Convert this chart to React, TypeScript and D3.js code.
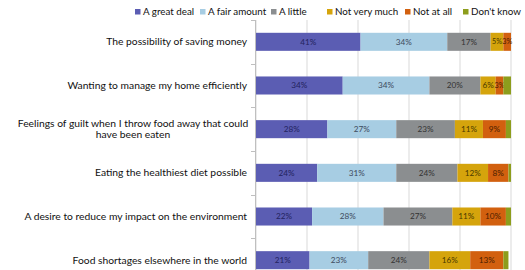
import React from 'react';
import * as d3 from 'd3';

const categories = [
  'The possibility of saving money',
  'Wanting to manage my home efficiently',
  'Feelings of guilt when I throw food away that could|have been eaten',
  'Eating the healthiest diet possible',
  'A desire to reduce my impact on the environment',
  'Food shortages elsewhere in the world',
];

const seriesNames = ['A great deal', 'A fair amount', 'A little', 'Not very much', 'Not at all', "Don't know"];

const greatDeal = [41, 34, 28, 24, 22, 21];
const fairAmount = [34, 34, 27, 31, 28, 23];
const aLittle = [17, 20, 23, 24, 27, 24];
const notVeryMuch = [5, 6, 11, 12, 11, 16];
const notAtAll = [3, 3, 9, 8, 10, 13];
const dontKnow = [0, 3, 2, 1, 2, 2];

const colors = ['#5b5db3', '#a7cde3', '#8b8e90', '#d5a40c', '#d2600f', '#8d9d1c'];
const labelColors = ['#23235e', '#3d4a5c', '#333333', '#4a3a00', '#4a1e00', '#333333'];

const xTicks = [0, 20, 40, 60, 80, 100];

const App = () => {
  const width = 525;
  const height = 270;

  const series = [greatDeal, fairAmount, aLittle, notVeryMuch, notAtAll, dontKnow];

  const x = d3.scaleLinear().domain([0, 100]).range([256, 511]);
  const y = d3
    .scaleBand<string>()
    .domain(categories)
    .range([20, 282])
    .paddingInner(0.587)
    .paddingOuter(0.293);

  const table = categories.map((c, i) => {
    const row: Record<string, number | string> = { cat: c };
    seriesNames.forEach((s, j) => (row[s] = series[j][i]));
    return row;
  });
  const stacked = d3.stack<Record<string, number | string>>().keys(seriesNames)(table as any);

  const font = 'Lato, "Open Sans", sans-serif';
  const step = y.step();

  // legend positions (x of the swatch)
  const legendX = [135, 200, 271, 327, 405, 463];

  return (
    <svg
      width={width}
      height={height}
      style={{ position: 'absolute', left: 0, top: 0, background: '#fff' }}
      fontFamily={font}
    >
      <rect x={0} y={0} width={width} height={height} fill="#ffffff" />

      {/* gridlines */}
      {xTicks.map((t) => (
        <line key={t} x1={x(t)} x2={x(t)} y1={20} y2={height} stroke="#d9d9d9" strokeWidth={1} />
      ))}

      {/* category axis */}
      <line x1={255.5} x2={255.5} y1={20} y2={height} stroke="#bfbfbf" />
      {d3.range(categories.length + 1).map((k) => (
        <line
          key={k}
          x1={251}
          x2={255.5}
          y1={Math.round(20 + k * step) + 0.5}
          y2={Math.round(20 + k * step) + 0.5}
          stroke="#bfbfbf"
        />
      ))}

      {/* bars */}
      {stacked.map((layer, j) =>
        layer.map((d, i) => {
          const x0 = x(d[0]);
          const x1 = x(d[1]);
          const yy = y(categories[i]) as number;
          const v = series[j][i];
          const w = x1 - x0;
          return (
            <g key={`${j}-${i}`}>
              <rect x={x0} y={yy} width={Math.max(0, w)} height={y.bandwidth()} fill={colors[j]} />
              {j < 5 && v > 0 && (
                <text
                  x={(x0 + x1) / 2}
                  y={yy + y.bandwidth() / 2}
                  dy="0.35em"
                  textAnchor="middle"
                  fontSize={w < 14 ? 7.2 : 8.2}
                  fill={labelColors[j]}
                >
                  {v}%
                </text>
              )}
            </g>
          );
        })
      )}

      {/* category labels */}
      {categories.map((c) => {
        const lines = c.split('|');
        const cy = (y(c) as number) + y.bandwidth() / 2;
        if (lines.length === 1) {
          return (
            <text key={c} x={247} y={cy} dy="0.35em" textAnchor="end" fontSize={10.3} fill="#111">
              {c}
            </text>
          );
        }
        return (
          <text key={c} fontSize={10.3} fill="#111" textAnchor="middle">
            <tspan x={133} y={cy - 5.5} dy="0.35em">
              {lines[0]}
            </tspan>
            <tspan x={133} y={cy + 5.5} dy="0.35em">
              {lines[1]}
            </tspan>
          </text>
        );
      })}

      {/* legend */}
      {seriesNames.map((s, j) => (
        <g key={s} transform={`translate(${legendX[j]},12)`}>
          <rect x={0} y={-3} width={5.5} height={5.5} fill={colors[j]} />
          <text x={8} y={0} dy="0.35em" fontSize={9.8} fill="#111">
            {s}
          </text>
        </g>
      ))}
    </svg>
  );
};

export default App;
